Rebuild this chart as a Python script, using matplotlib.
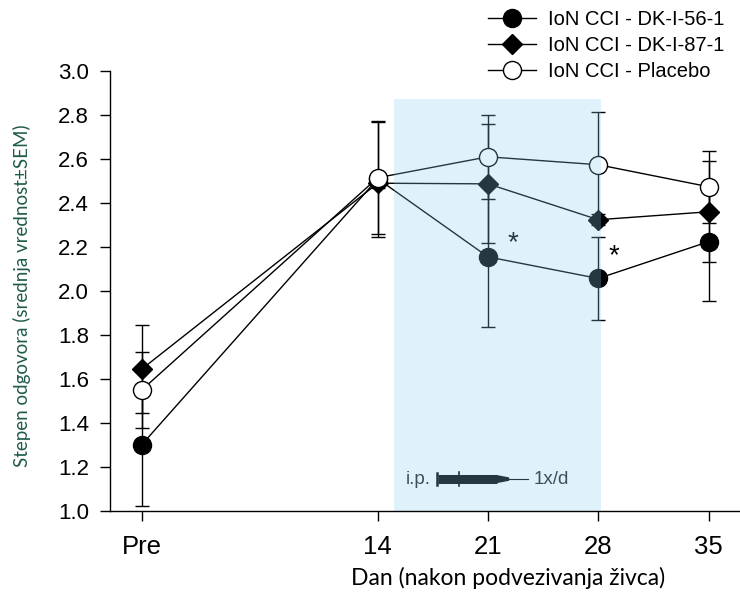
import matplotlib
matplotlib.use("Agg")
import matplotlib.pyplot as plt
from matplotlib.patches import Rectangle, Polygon
import numpy as np

plt.rcParams['font.family'] = ['Liberation Sans', 'DejaVu Sans']

# ---- data ----
x_pos = [-1, 14, 21, 28, 35]
x_labels = ["Pre", "14", "21", "28", "35"]

dk56_mean = [1.30, 2.51, 2.155, 2.057, 2.224]
dk56_sem = [0.277, 0.265, 0.32, 0.19, 0.27]

dk87_mean = [1.644, 2.49, 2.487, 2.324, 2.36]
dk87_sem = [0.20, 0.02, 0.27, 0.025, 0.23]

plac_mean = [1.549, 2.515, 2.61, 2.574, 2.474]
plac_sem = [0.172, 0.255, 0.19, 0.24, 0.163]

labels = ["IoN CCI - DK-I-56-1", "IoN CCI - DK-I-87-1", "IoN CCI - Placebo"]
y_ticks = [1.0, 1.2, 1.4, 1.6, 1.8, 2.0, 2.2, 2.4, 2.6, 2.8, 3.0]

sig_x = [22.6, 29.0]
sig_y = [2.215, 2.16]

treat_start, treat_end, treat_top = 15.0, 28.2, 2.875

# ---- figure ----
fig = plt.figure(figsize=(7.4, 5.95), dpi=100)
ax = fig.add_axes([110/740, 84/595, 630/740, 440/595])

series = [
    (dk56_mean, dk56_sem, dict(marker='o', ms=13, mfc='black', mec='black')),
    (dk87_mean, dk87_sem, dict(marker='D', ms=10.5, mfc='black', mec='black')),
    (plac_mean, plac_sem, dict(marker='o', ms=13, mfc='white', mec='black')),
]

for i, (m, s, mk) in enumerate(series):
    ax.errorbar(x_pos, m, yerr=s, fmt='none', ecolor='black', elinewidth=1.0,
                capsize=4.7, capthick=1.0, zorder=2 + i * 0.1)
for i, (m, s, mk) in enumerate(series):
    ax.plot(x_pos, m, color='black', lw=1.0, mew=1.0, label=labels[i],
            zorder=3 + i, **mk)

for xs, ys in zip(sig_x, sig_y):
    ax.text(xs, ys, "*", fontsize=20, ha='center', va='center', zorder=8)

# syringe icon (i.p. 1x/d)
sy = 1.145
ax.plot([17.8, 21.57], [sy, sy], color='black', lw=6.5, solid_capstyle='butt', zorder=8)
ax.plot([17.78, 17.78], [sy - 0.027, sy + 0.027], color='black', lw=1.8, zorder=8)
ax.plot([19.16, 19.16], [sy - 0.032, sy + 0.032], color='black', lw=1.2, zorder=8)
ax.add_patch(Polygon([[21.57, sy - 0.015], [22.3, sy - 0.005], [22.3, sy + 0.005],
                      [21.57, sy + 0.015]], closed=True, color='black', zorder=8))
ax.plot([22.3, 23.55], [sy, sy], color='black', lw=0.8, zorder=8)
ax.text(17.35, sy, "i.p.", fontsize=13.5, ha='right', va='center', zorder=8, color='#222222')
ax.text(23.9, sy, "1x/d", fontsize=13.5, ha='left', va='center', zorder=8, color='#222222')

# treatment shading (overlay)
ax.add_patch(Rectangle((treat_start, 1.0), treat_end - treat_start, treat_top - 1.0,
                       facecolor=(0.55, 0.80, 0.95), alpha=0.27, edgecolor='none',
                       zorder=10))

ax.set_xlim(-3, 37)
ax.set_ylim(1.0, 3.0)
ax.set_xticks(x_pos)
ax.set_xticklabels(x_labels)
ax.set_yticks(y_ticks)
ax.set_yticklabels([f"{v:.1f}" for v in y_ticks])
ax.tick_params(direction='out', length=7, width=1, labelsize=16, pad=8)
ax.tick_params(axis='x', labelsize=18.5, pad=10)
for sp in ['top', 'right']:
    ax.spines[sp].set_visible(False)
for sp in ['left', 'bottom']:
    ax.spines[sp].set_linewidth(1.0)
    ax.spines[sp].set_zorder(11)

fig.text(508/740, 1 - 578/595, "Dan (nakon podvezivanja živca)", fontsize=16.5,
         family=['Lato', 'DejaVu Sans'], ha='center', va='center')
fig.text(22/740, 1 - 296/595, "Stepen odgovora (srednja vrednost±SEM)", fontsize=13.5,
         family=['Lato', 'DejaVu Sans'], color='#1F5B4B', rotation=90,
         ha='center', va='center')

ax.legend(loc='upper left', bbox_to_anchor=(488/740, 1 - 10/595),
          bbox_transform=fig.transFigure, frameon=False, fontsize=14.5,
          handlelength=2.4, handletextpad=0.6, labelspacing=0.35,
          borderpad=0, borderaxespad=0)

fig.savefig("out.png", dpi=100)
